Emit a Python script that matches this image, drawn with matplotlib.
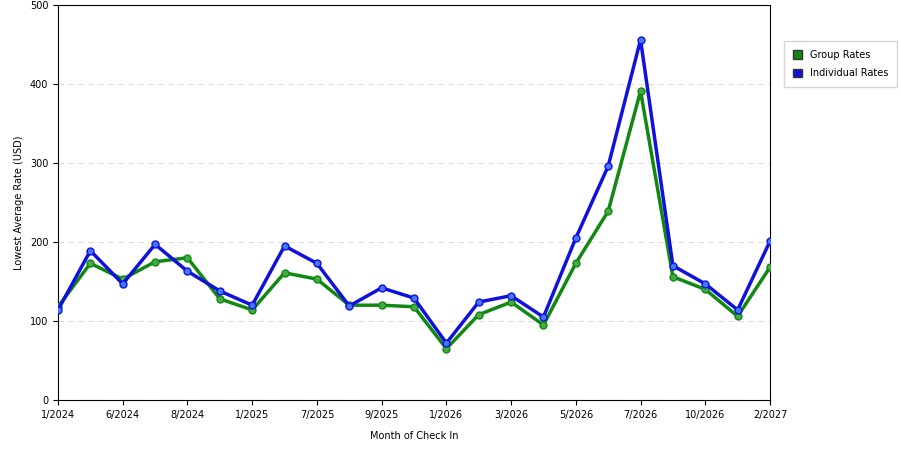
import matplotlib
matplotlib.use("Agg")
import matplotlib.pyplot as plt
from matplotlib.patches import Patch

tick_labels = ["1/2024","6/2024","8/2024","1/2025","7/2025","9/2025","1/2026","3/2026","5/2026","7/2026","10/2026","2/2027"]
group = [118,173,153,175,180,128,114,161,153,120,120,118,65,108,124,95,173,239,391,156,140,106,168]
indiv = [114,189,147,197,163,138,120,195,173,119,142,129,72,124,132,105,205,296,456,170,147,114,201]

fig = plt.figure(figsize=(9,4.5), dpi=100)
ax = fig.add_axes([58/900, 50/450, 712/900, 395/450])
x = list(range(len(group)))
ax.plot(x, group, color="#118811", lw=2.5, marker="o", ms=5, mfc="#44aa44", mec="#118811", zorder=3, label="Group Rates")
ax.plot(x, indiv, color="#1111dd", lw=2.5, marker="o", ms=5, mfc="#4477ff", mec="#1111dd", zorder=4, label="Individual Rates")
ax.set_xlim(0, len(group)-1)
ax.set_ylim(0, 500)
ax.set_xticks(range(0, len(group), 2))
ax.set_xticklabels(tick_labels, fontsize=7)
ax.set_yticks(range(0, 501, 100))
ax.tick_params(axis="y", labelsize=7)
ax.yaxis.grid(True, ls=(0,(5,4)), color="#dddddd", lw=0.8)
ax.set_axisbelow(True)
ax.set_xlabel("Month of Check In", fontsize=7, labelpad=8)
ax.set_ylabel("Lowest Average Rate (USD)", fontsize=7)
handles = [Patch(facecolor="#118811", edgecolor="#333333", label="Group Rates"),
           Patch(facecolor="#1111dd", edgecolor="#333333", label="Individual Rates")]
fig.legend(handles=handles, loc="upper left", bbox_to_anchor=(779/900, 1-36/450), fontsize=7,
           frameon=True, fancybox=False, edgecolor="#cccccc", handlelength=1, handleheight=1,
           labelspacing=0.9, borderpad=0.9)
fig.savefig("out.png", dpi=100)
